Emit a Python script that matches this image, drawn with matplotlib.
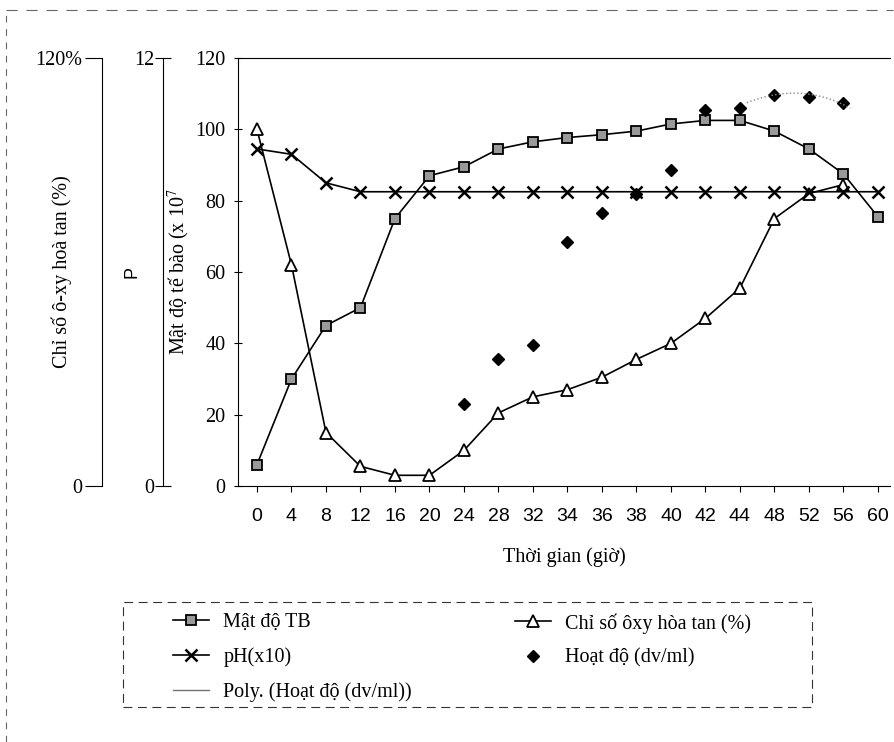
import matplotlib.pyplot as plt
import numpy as np
from matplotlib.lines import Line2D
from matplotlib.patches import Rectangle

plt.rcParams['font.family'] = ['Liberation Serif', 'DejaVu Serif']
plt.rcParams['mathtext.fontset'] = 'stix'

# du lieu doc tu hinh
gio = ['0', '4', '8', '12', '16', '20', '24', '28', '32', '34', '36',
       '38', '40', '42', '44', '48', '52', '56', '60']
mat_do = [6, 30, 45, 50, 75, 87, 89.5, 94.5, 96.5, 97.7, 98.5, 99.5,
          101.5, 102.5, 102.5, 99.5, 94.5, 87.5, 75.5]
oxy = [100, 62, 15, 5.5, 3, 3, 10, 20.5, 25, 27, 30.5, 35.5, 40, 47,
       55.5, 75, 82, 84.5, np.nan]
ph = [94.5, 93, 85, 82.5, 82.5, 82.5, 82.5, 82.5, 82.5, 82.5, 82.5,
      82.5, 82.5, 82.5, 82.5, 82.5, 82.5, 82.5, 82.5]
hoat_do = [np.nan, np.nan, np.nan, np.nan, np.nan, np.nan, 23, 35.5, 39.5,
           68.5, 76.5, 82, 88.5, 105.5, 106, 109.5, 109, 107.5, np.nan]

x = np.arange(len(gio))
fs = 14.5

fig = plt.figure(figsize=(8.95, 7.42), dpi=100)
W, H = 895, 742
bot = 1 - 486 / H
hgt = (486 - 58) / H
aw = (890 - 238) / W

ax = fig.add_axes([238 / W, bot, aw, hgt])
l1, = ax.plot(x, mat_do, color='black', lw=1.2, marker='s', ms=7,
              mfc='0.6', mec='black', mew=1.3, label='Mật độ TB')
l2, = ax.plot(x, oxy, color='black', lw=1.2, marker='^', ms=8,
              mfc='white', mec='black', mew=1.3,
              label='Chỉ số ôxy hòa tan (%)')
l3, = ax.plot(x, ph, color='black', lw=1.2, marker='x', ms=9, mew=1.8,
              label='pH(x10)')
l4, = ax.plot(x, hoat_do, ls='none', marker='D', ms=6.5, color='black',
              label='Hoạt độ (dv/ml)')

# duong xu huong (poly) cua hoat do
hd = np.array(hoat_do)
ok = ~np.isnan(hd)
he_so = np.polyfit(x[ok], hd[ok], 3)
xt = np.linspace(14.2, 17.2, 50)
ax.plot(xt, np.polyval(he_so, xt), color='0.55', lw=1, ls=':')
l5 = Line2D([], [], color='0.45', lw=1)

ax.set_xlim(-0.55, 18.35)
ax.set_ylim(0, 120)
ax.set_yticks(range(0, 121, 20))
ax.set_xticks(x)
ax.set_xticklabels(gio, family='Liberation Sans', fontsize=14)
ax.tick_params(axis='x', length=4, pad=12)
ax.tick_params(axis='y', length=6, direction='inout', labelsize=fs, pad=6)
ax.spines['right'].set_visible(False)
ax.set_xlabel('Thời gian (giờ)', fontsize=fs, labelpad=16)
ax.set_ylabel('Mật độ tế bào (x 10$^7$', fontsize=fs)
ax.yaxis.set_label_coords(-46 / (aw * W), 0.5)

# truc P
ax2 = fig.add_axes([163 / W, bot, 0.001, hgt])
ax2.set_ylim(0, 12)
ax2.set_yticks([0, 12])
ax2.set_xticks([])
for s in ['top', 'right', 'bottom']:
    ax2.spines[s].set_visible(False)
ax2.tick_params(axis='y', length=12, direction='inout', labelsize=fs, pad=0)
ax2.set_ylabel('P', fontsize=13, family='Liberation Sans')
ax2.yaxis.set_label_coords(-22 / (0.001 * W), 0.5)

# truc chi so oxy
ax3 = fig.add_axes([102 / W, bot, 0.001, hgt])
ax3.set_ylim(0, 120)
ax3.set_yticks([0, 120])
ax3.set_yticklabels(['0', '120%'])
ax3.set_xticks([])
for s in ['top', 'right', 'bottom']:
    ax3.spines[s].set_visible(False)
ax3.tick_params(axis='y', length=12, direction='out', labelsize=fs, pad=2)
ax3.set_ylabel('Chỉ số ô-xy hoà tan (%)', fontsize=fs)
ax3.yaxis.set_label_coords(-30 / (0.001 * W), 0.5)

# chu thich: hai cot, khung net dut rieng
opts = dict(loc='upper left', fontsize=fs, frameon=False, handlelength=1.8,
            handletextpad=0.7, labelspacing=0.75, borderpad=0, borderaxespad=0)
fig.legend([l1, l3, l5], ['Mật độ TB', 'pH(x10)', 'Poly. (Hoạt độ (dv/ml))'],
           bbox_to_anchor=(173 / W, 1 - 613 / H), **opts)
fig.legend([l2, l4], ['Chỉ số ôxy hòa tan (%)', 'Hoạt độ (dv/ml)'],
           bbox_to_anchor=(515 / W, 1 - 613 / H), **opts)
fig.add_artist(Rectangle((123 / W, 1 - 707 / H), (812 - 123) / W, 105 / H,
                         transform=fig.transFigure, fill=False,
                         edgecolor='0.2', lw=0.8, ls=(0, (8, 5))))

# vien quet
fig.add_artist(Line2D([6 / W, 6 / W], [0, 1 - 10 / H], color='0.4',
                      lw=0.8, ls=(0, (6, 6))))
fig.add_artist(Line2D([6 / W, 893 / W], [1 - 10 / H, 1 - 10 / H], color='0.4',
                      lw=0.8, ls=(0, (10, 8))))

plt.savefig('out.png', dpi=100)
